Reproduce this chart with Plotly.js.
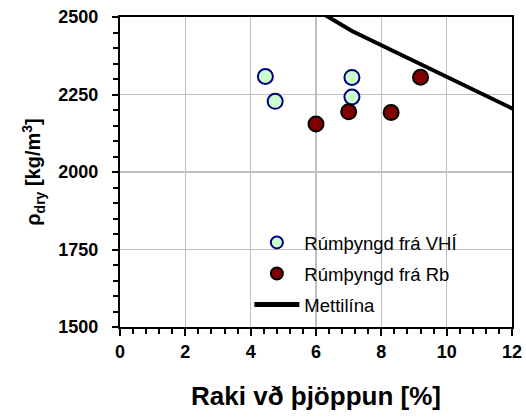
<!DOCTYPE html>
<html>
<head>
<meta charset="utf-8">
<script src="https://cdn.plot.ly/plotly-3.0.1.min.js"></script>
<style>html,body{margin:0;padding:0;background:#fff;}#chart{width:526px;height:418px;}</style>
</head>
<body>
<div id="chart"></div>
<script>
// Data
var vhiMoisture = [4.45, 4.75, 7.1, 7.1];
var vhiDensity = [2308, 2228, 2305, 2242];
var rbMoisture = [6.0, 7.0, 8.3, 9.2];
var rbDensity = [2155, 2194, 2192, 2306];
var lineMoisture = [5.9, 7.1, 12.3];
var lineDensity = [2530, 2455, 2190];
var seriesNames = ["Rúmþyngd frá VHÍ", "Rúmþyngd frá Rb", "Mettilína"];
var xTickVals = [0, 2, 4, 6, 8, 10, 12];
var yTickVals = [1500, 1750, 2000, 2250, 2500];

var font = "'Liberation Sans', Arial, sans-serif";
function bold(v) { return "<b>" + v + "</b>"; }
var traces = [
  {x: vhiMoisture, y: vhiDensity, type: "scatter", mode: "markers", name: seriesNames[0], legendgroup: "a",
   marker: {size: 15, color: "#ccffcc", line: {color: "#000080", width: 2}}},
  {x: rbMoisture, y: rbDensity, type: "scatter", mode: "markers", name: seriesNames[1], legendgroup: "b",
   marker: {size: 15, color: "#800000", line: {color: "#000000", width: 2}}},
  {x: lineMoisture, y: lineDensity, type: "scatter", mode: "lines", name: seriesNames[2], legendgroup: "c",
   line: {color: "#000000", width: 4}, cliponaxis: false}
];
var layout = {
  width: 526, height: 418,
  margin: {l: 120, r: 14, t: 17, b: 91},
  paper_bgcolor: "#ffffff", plot_bgcolor: "#ffffff",
  showlegend: true,
  legend: {x: 0.33, y: 0.01, xanchor: "left", yanchor: "bottom", bgcolor: "rgba(0,0,0,0)",
    font: {family: font, size: 18.5, color: "#000"}, tracegroupgap: 4, itemsizing: "constant", itemwidth: 45},
  xaxis: {range: [0, 12], tickvals: xTickVals, ticktext: xTickVals.map(bold),
    showgrid: true, gridcolor: "#c0c0c0", gridwidth: 1.5,
    showline: true, linecolor: "#000", linewidth: 2, mirror: true,
    ticks: "outside", ticklen: 7, tickwidth: 2, tickcolor: "#000",
    minor: {dtick: 0.4, tick0: 0, ticks: "outside", ticklen: 5, tickwidth: 2, tickcolor: "#000", showgrid: false},
    tickfont: {family: font, size: 18, color: "#000", weight: 700},
    zeroline: false,
    title: {text: "<b>Raki vð þjöppun [%]</b>", font: {family: font, size: 26, color: "#000"}, standoff: 26}},
  yaxis: {range: [1500, 2500], tickvals: yTickVals, ticktext: yTickVals.map(function(v){ return bold(v) + "\u00a0\u00a0"; }),
    showgrid: true, gridcolor: "#c0c0c0", gridwidth: 1.5,
    showline: true, linecolor: "#000", linewidth: 2, mirror: true,
    ticks: "outside", ticklen: 6, tickwidth: 2, tickcolor: "#000",
    minor: {dtick: 50, tick0: 1500, ticks: "outside", ticklen: 5, tickwidth: 2, tickcolor: "#000", showgrid: false},
    tickfont: {family: font, size: 18, color: "#000", weight: 700},
    zeroline: false,
    title: {text: "<b>ρ<sub>dry</sub> [kg/m<sup>3</sup>]</b>", font: {family: font, size: 20, color: "#000"}, standoff: 12}}
};
Plotly.newPlot("chart", traces, layout, {displayModeBar: false, staticPlot: true});
</script>
</body>
</html>
